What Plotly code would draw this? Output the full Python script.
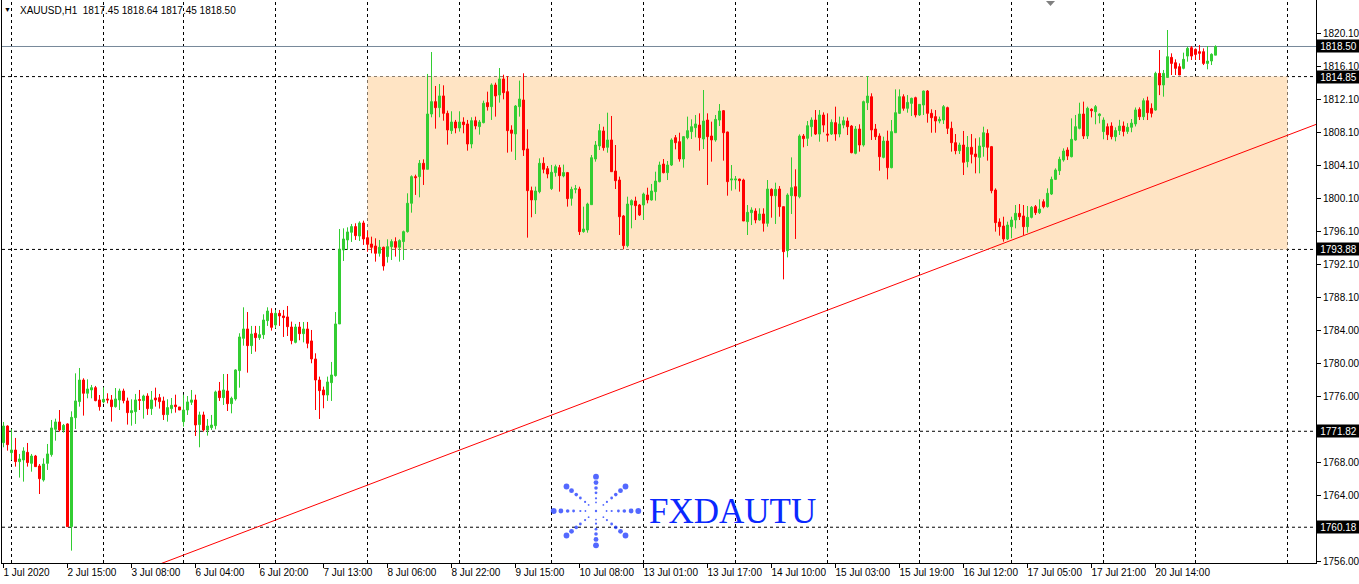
import plotly.graph_objects as go

# ---------------- data (XAUUSD H1) ----------------
sessions = [("1 Jul", 22, 23), ("2 Jul", 1, 23), ("3 Jul", 1, 20), ("6 Jul", 1, 23),
            ("7 Jul", 1, 23), ("8 Jul", 1, 23), ("9 Jul", 1, 23), ("10 Jul", 1, 23),
            ("13 Jul", 1, 23), ("14 Jul", 1, 23), ("15 Jul", 1, 23), ("16 Jul", 1, 23),
            ("17 Jul", 1, 23), ("20 Jul", 1, 23), ("21 Jul", 1, 6)]
bar_times = [f"{d} {h:02d}:00" for d, a, b in sessions for h in range(a, b + 1)]

opens = [
 1770.44,1772.46,1769.23,1769.55,1768.14,1768.34,1769.27,1767.93,1768.82,1767.61,
 1765.91,1767.93,1768.99,1772.06,1772.95,1771.98,1772.71,1760.25,1773.47,1775.42,
 1778.04,1776.43,1776.83,1777.11,1775.62,1775.38,1775.74,1775.62,1774.81,1775.62,
 1776.71,1775.50,1774.08,1774.20,1775.66,1775.54,1776.10,1774.57,1775.86,1775.90,
 1775.50,1773.84,1774.57,1775.01,1774.77,1772.99,1774.40,1775.34,1775.62,1772.63,
 1773.80,1771.98,1772.26,1772.50,1776.71,1775.90,1776.71,1775.17,1775.74,1779.18,
 1783.10,1784.23,1782.21,1783.71,1783.18,1783.54,1785.24,1786.13,1784.72,1786.13,
 1785.81,1785.69,1784.47,1782.61,1784.47,1783.66,1784.23,1782.78,1780.59,1778.04,
 1776.83,1776.22,1777.72,1778.57,1784.84,1793.81,1795.03,1795.96,1796.65,1795.51,
 1797.09,1795.30,1794.54,1794.30,1793.41,1794.14,1793.01,1794.22,1794.83,1794.14,
 1794.83,1796.04,1799.48,1802.71,1802.71,1804.33,1803.60,1810.31,1811.81,1811.08,
 1812.50,1810.39,1808.29,1809.34,1808.61,1809.34,1809.10,1806.67,1809.50,1808.78,
 1809.26,1811.69,1811.20,1813.83,1812.62,1814.56,1813.02,1808.37,1807.89,1811.20,
 1812.01,1806.07,1801.01,1799.88,1800.89,1804.33,1803.68,1801.26,1803.20,1803.80,
 1802.79,1803.20,1800.08,1801.17,1801.21,1796.04,1796.24,1799.31,1804.85,1806.43,
 1808.25,1806.27,1807.16,1803.39,1802.30,1797.94,1794.34,1799.27,1799.76,1799.27,
 1799.27,1800.48,1799.88,1800.89,1802.10,1804.24,1803.19,1804.12,1807.44,1806.95,
 1804.85,1807.44,1808.17,1808.65,1808.97,1807.28,1809.58,1807.64,1807.16,1809.58,
 1810.71,1808.13,1802.30,1802.30,1802.42,1802.30,1797.25,1798.34,1798.54,1797.45,
 1798.18,1797.05,1801.17,1800.40,1801.21,1799.07,1793.73,1800.40,1801.49,1800.28,
 1807.64,1807.36,1808.77,1809.58,1807.88,1810.19,1807.88,1807.88,1809.26,1807.88,
 1808.97,1809.46,1808.85,1805.54,1808.49,1806.55,1811.68,1812.41,1808.49,1807.64,
 1805.05,1807.03,1803.80,1808.04,1810.39,1812.41,1811.00,1811.60,1812.29,1810.19,
 1811.40,1813.10,1810.39,1809.99,1809.46,1809.58,1811.08,1808.57,1806.83,1805.86,
 1806.55,1804.53,1806.27,1805.46,1805.05,1806.35,1807.96,1806.35,1801.09,1797.21,
 1796.72,1795.15,1796.64,1797.45,1798.26,1797.94,1796.64,1797.77,1799.07,1798.34,
 1799.67,1799.07,1800.60,1802.38,1803.43,1804.73,1805.94,1805.13,1807.16,1808.57,
 1810.31,1807.64,1810.88,1810.59,1810.11,1808.17,1808.77,1808.85,1807.56,1808.30,
 1808.85,1808.20,1808.70,1809.10,1810.87,1809.98,1811.92,1810.99,1810.79,1815.24,
 1813.83,1814.75,1817.18,1816.53,1816.05,1815.85,1817.34,1818.35,1818.15,1817.87,
 1817.87,1816.45,1816.74,1817.45]
highs = [
 1772.95,1772.54,1772.06,1771.01,1769.07,1769.88,1770.40,1769.07,1768.95,1767.85,
 1768.54,1770.28,1773.19,1773.35,1774.40,1772.71,1772.79,1774.24,1778.85,1779.50,
 1778.25,1778.12,1777.44,1777.32,1776.22,1777.15,1776.43,1776.22,1777.07,1776.99,
 1776.99,1775.90,1775.70,1776.35,1776.83,1776.26,1776.43,1776.71,1777.11,1776.35,
 1776.02,1775.70,1775.86,1776.26,1774.77,1776.26,1776.10,1776.83,1776.26,1774.20,
 1774.20,1773.31,1773.80,1776.75,1777.80,1778.77,1778.77,1776.02,1779.34,1783.71,
 1786.86,1786.29,1784.60,1784.60,1784.60,1786.01,1786.86,1786.74,1786.54,1786.54,
 1786.54,1787.02,1785.12,1784.84,1785.08,1785.08,1785.08,1784.11,1781.28,1778.45,
 1777.24,1778.45,1780.23,1786.29,1796.36,1796.44,1796.56,1796.97,1797.05,1797.29,
 1797.37,1796.10,1795.43,1795.23,1795.03,1794.22,1795.11,1795.11,1795.35,1795.11,
 1796.16,1800.69,1802.87,1802.95,1804.73,1804.81,1815.17,1817.83,1813.71,1813.95,
 1813.79,1810.72,1810.64,1809.59,1810.64,1809.91,1809.59,1809.91,1809.99,1809.59,
 1811.93,1813.02,1814.03,1814.11,1815.89,1815.08,1814.92,1808.94,1811.40,1814.36,
 1815.25,1808.45,1801.50,1801.50,1804.93,1805.06,1804.00,1804.13,1804.17,1804.13,
 1804.17,1803.28,1801.49,1801.70,1801.49,1799.07,1799.55,1805.34,1807.03,1809.10,
 1808.77,1810.47,1810.07,1806.55,1802.71,1798.06,1800.28,1799.96,1800.28,1799.39,
 1800.77,1801.37,1801.82,1803.31,1804.53,1804.85,1804.61,1807.36,1807.76,1808.04,
 1807.64,1809.99,1809.66,1810.19,1810.39,1813.22,1810.39,1809.38,1810.19,1811.52,
 1810.79,1808.17,1804.12,1802.79,1802.46,1802.46,1799.27,1798.99,1798.87,1798.87,
 1798.87,1802.30,1801.29,1801.98,1801.57,1799.07,1800.69,1805.05,1803.60,1807.84,
 1807.88,1809.46,1809.90,1810.79,1810.79,1810.51,1810.39,1809.66,1811.20,1809.99,
 1809.99,1809.90,1808.97,1808.85,1809.06,1811.93,1814.92,1812.82,1809.10,1807.96,
 1807.56,1808.29,1809.58,1813.30,1813.30,1812.70,1812.61,1812.29,1812.41,1811.52,
 1813.14,1813.22,1810.88,1810.79,1809.99,1811.40,1811.20,1809.38,1807.88,1806.83,
 1808.25,1807.64,1807.88,1807.36,1807.48,1808.77,1808.45,1806.43,1801.29,1797.65,
 1797.85,1797.25,1797.85,1799.27,1799.39,1799.27,1799.15,1799.15,1799.27,1799.96,
 1799.96,1801.29,1802.71,1803.72,1805.13,1806.14,1806.27,1809.78,1810.19,1811.68,
 1811.81,1811.20,1811.00,1811.40,1810.39,1809.90,1809.17,1809.30,1808.69,1809.60,
 1809.40,1809.20,1809.70,1811.10,1811.12,1812.21,1812.41,1811.60,1815.44,1818.07,
 1815.65,1820.50,1817.67,1816.94,1816.45,1817.75,1818.48,1818.56,1818.27,1818.68,
 1818.27,1818.56,1817.67,1818.64]
lows = [
 1769.88,1769.47,1768.34,1767.53,1766.20,1765.71,1767.53,1766.92,1767.49,1764.21,
 1765.71,1767.13,1768.74,1770.68,1771.78,1771.66,1760.25,1757.34,1772.10,1774.81,
 1773.72,1775.82,1775.82,1775.46,1774.32,1775.21,1775.21,1772.99,1774.69,1774.40,
 1775.21,1772.63,1772.50,1772.71,1774.40,1773.35,1773.80,1773.80,1774.81,1774.57,
 1773.19,1772.99,1774.00,1774.08,1774.40,1772.38,1773.80,1775.01,1771.25,1769.88,
 1771.78,1771.29,1771.98,1772.06,1775.50,1775.01,1774.28,1774.00,1775.54,1777.11,
 1782.21,1778.93,1781.20,1781.48,1782.90,1783.02,1784.60,1784.03,1784.31,1784.60,
 1783.26,1783.38,1782.37,1782.49,1782.86,1782.61,1781.89,1780.07,1774.40,1773.31,
 1774.61,1775.50,1775.50,1778.45,1784.84,1792.48,1793.81,1794.79,1795.03,1794.91,
 1794.42,1793.60,1793.41,1792.40,1793.01,1791.31,1792.28,1792.60,1793.01,1792.40,
 1792.60,1795.92,1798.34,1800.49,1800.20,1801.70,1803.60,1809.91,1808.53,1809.91,
 1809.50,1806.59,1807.89,1807.97,1808.17,1807.97,1805.86,1806.15,1808.45,1807.81,
 1809.18,1810.72,1809.59,1809.99,1811.69,1812.09,1805.62,1805.74,1804.73,1809.99,
 1805.22,1795.31,1797.78,1798.18,1800.69,1803.12,1802.51,1801.09,1802.71,1800.89,
 1802.63,1799.07,1799.19,1800.69,1795.63,1795.91,1795.91,1799.31,1804.53,1805.94,
 1805.86,1805.62,1803.31,1801.21,1795.63,1793.89,1794.13,1796.44,1797.45,1797.94,
 1797.45,1799.47,1799.80,1799.80,1802.02,1803.11,1802.30,1804.00,1806.02,1804.53,
 1803.80,1807.24,1807.28,1807.48,1805.86,1806.06,1801.70,1804.53,1806.95,1808.85,
 1804.65,1800.40,1801.01,1801.17,1800.89,1797.33,1795.63,1796.84,1797.05,1797.37,
 1796.04,1796.64,1797.73,1796.97,1797.85,1790.25,1792.92,1798.18,1795.15,1800.08,
 1806.27,1806.43,1807.56,1807.76,1806.95,1808.09,1806.95,1807.76,1807.07,1807.48,
 1808.57,1807.76,1805.54,1805.42,1805.74,1806.35,1810.79,1807.16,1807.16,1803.43,
 1804.93,1802.38,1803.72,1808.04,1810.31,1810.71,1810.47,1810.07,1809.90,1810.07,
 1810.19,1809.26,1808.04,1808.04,1809.18,1809.10,1807.88,1805.74,1805.42,1805.46,
 1802.91,1803.84,1804.32,1803.11,1803.11,1805.13,1804.65,1800.69,1796.04,1795.55,
 1794.82,1795.02,1795.23,1796.44,1797.45,1795.63,1795.91,1797.65,1798.06,1798.18,
 1798.87,1798.95,1800.48,1802.30,1802.91,1804.53,1804.73,1805.05,1807.07,1808.45,
 1807.28,1807.28,1809.90,1809.06,1809.18,1807.24,1807.15,1807.23,1807.00,1807.76,
 1807.60,1807.90,1808.10,1808.80,1809.58,1809.58,1809.58,1809.90,1810.71,1812.60,
 1812.41,1814.75,1815.04,1815.04,1815.04,1815.73,1816.66,1816.86,1816.86,1816.86,
 1816.25,1815.73,1816.25,1817.45]
closes = [
 1772.46,1770.20,1769.55,1768.14,1768.46,1769.43,1768.02,1768.82,1767.53,1766.07,
 1767.85,1769.07,1772.22,1772.95,1771.98,1772.54,1760.25,1773.51,1775.50,1778.04,
 1776.43,1776.95,1777.11,1775.54,1774.81,1775.70,1775.62,1774.81,1775.74,1776.71,
 1775.54,1774.08,1774.32,1775.62,1775.58,1776.10,1774.57,1775.62,1775.62,1775.42,
 1773.84,1774.69,1774.97,1774.81,1774.40,1774.40,1775.38,1775.62,1772.58,1773.80,
 1771.98,1772.46,1772.58,1776.59,1775.90,1776.83,1775.17,1775.82,1779.26,1783.26,
 1784.23,1782.21,1783.62,1783.18,1783.54,1785.32,1786.41,1784.43,1786.13,1785.81,
 1785.61,1784.51,1782.82,1784.47,1783.66,1784.23,1782.49,1780.59,1778.04,1776.75,
 1776.22,1777.80,1778.65,1784.84,1793.90,1795.15,1796.00,1796.65,1795.55,1797.09,
 1795.15,1794.50,1794.14,1793.41,1794.14,1791.87,1794.22,1794.83,1794.14,1794.95,
 1796.04,1799.48,1802.71,1802.59,1804.33,1803.60,1810.31,1811.81,1811.08,1812.50,
 1810.39,1808.37,1809.34,1808.61,1809.34,1809.02,1806.67,1809.50,1808.86,1809.34,
 1811.61,1811.20,1813.83,1812.50,1814.56,1812.90,1808.29,1807.97,1811.28,1812.13,
 1805.95,1801.01,1799.88,1800.97,1804.33,1803.60,1803.03,1803.24,1803.92,1802.83,
 1803.20,1800.04,1801.17,1801.25,1796.04,1796.36,1799.39,1805.01,1806.55,1808.29,
 1806.23,1807.16,1803.31,1802.22,1797.85,1794.34,1799.39,1799.80,1799.19,1798.06,
 1800.60,1799.88,1800.97,1802.18,1804.12,1803.19,1804.12,1807.16,1806.83,1804.85,
 1807.56,1808.29,1808.77,1809.10,1807.44,1809.46,1807.56,1807.16,1809.66,1810.67,
 1808.04,1802.10,1802.42,1802.42,1802.22,1797.33,1798.38,1798.66,1797.45,1798.18,
 1797.05,1801.21,1800.40,1801.17,1799.07,1793.61,1800.48,1801.37,1800.36,1807.64,
 1807.32,1808.89,1809.58,1807.88,1810.19,1808.97,1807.76,1809.30,1807.88,1809.10,
 1809.50,1808.77,1805.62,1808.49,1806.55,1811.81,1812.49,1808.37,1807.56,1805.13,
 1807.03,1803.80,1808.17,1810.47,1812.41,1811.00,1811.72,1812.21,1810.19,1811.48,
 1813.10,1810.39,1809.86,1809.46,1809.66,1811.20,1808.57,1806.83,1805.86,1806.55,
 1804.45,1806.27,1805.42,1805.13,1806.43,1808.04,1806.27,1801.01,1797.13,1796.64,
 1795.15,1796.84,1797.45,1798.26,1797.85,1796.64,1797.77,1798.99,1798.34,1798.78,
 1799.07,1800.69,1802.38,1803.52,1804.81,1805.82,1805.21,1807.24,1808.77,1810.31,
 1807.64,1811.00,1810.71,1811.20,1810.31,1809.58,1807.80,1807.56,1808.30,1808.85,
 1808.20,1808.70,1809.20,1810.80,1809.98,1811.92,1810.47,1810.39,1815.24,1813.83,
 1815.24,1817.26,1816.45,1815.85,1815.04,1816.94,1818.27,1817.34,1817.54,1817.67,
 1816.45,1816.74,1817.55,1818.50]

xtick_labels = ["1 Jul 2020", "2 Jul 15:00", "3 Jul 08:00", "6 Jul 04:00", "6 Jul 20:00",
                "7 Jul 13:00", "8 Jul 06:00", "8 Jul 22:00", "9 Jul 15:00", "10 Jul 08:00",
                "13 Jul 01:00", "13 Jul 17:00", "14 Jul 10:00", "15 Jul 03:00", "15 Jul 19:00",
                "16 Jul 12:00", "17 Jul 05:00", "17 Jul 21:00", "20 Jul 14:00"]
xtick_step = 16
ytick_values = [1820.10, 1816.10, 1812.10, 1808.10, 1804.10, 1800.10, 1796.10, 1792.10,
                1788.10, 1784.00, 1780.00, 1776.00, 1768.00, 1764.00, 1756.00]
ytick_labels = ["1820.10", "1816.10", "1812.10", "1808.10", "1804.10", "1800.10", "1796.10",
                "1792.10", "1788.10", "1784.00", "1780.00", "1776.00", "1768.00", "1764.00",
                "1756.00"]
h_levels = [1814.85, 1793.88, 1771.82, 1760.18]
bid_price = 1818.50
box_low, box_high = 1793.88, 1814.85
box_start = "8 Jul 01:00"
trend_points = [(42, 1756.25), (250, 1794.63)]
symbol = "XAUUSD,H1"

# ---------------- figure ----------------
n = len(bar_times)
x = list(range(n))
last_hour = sessions[-1][2]
future_day_start = n + (23 - last_hour)
day_starts = [i for i, t in enumerate(bar_times) if t.endswith(" 01:00")] + [future_day_start]

W, H = 1359, 584
ML, MR, MT, MB = 2, 43, 0, 21
x_min, x_max = -0.375, 328.125
y_min, y_max = 1755.84, 1824.14

GREEN, RED = "#32CD32", "#FF0000"
LOGO = "#0a28ff"
fig = go.Figure()
fig.add_trace(go.Candlestick(
    x=x, open=opens, high=highs, low=lows, close=closes,
    increasing=dict(line=dict(color=GREEN, width=1), fillcolor=GREEN),
    decreasing=dict(line=dict(color=RED, width=1), fillcolor=RED),
    whiskerwidth=0, showlegend=False, hoverinfo="skip"))

# trend line (ray through two anchor points)
(ta, pa), (tb, pb) = trend_points
slope = (pb - pa) / (tb - ta)
tx = [x_min - 5, x_max + 5]
fig.add_trace(go.Scatter(x=tx, y=[pa + slope * (v - ta) for v in tx], mode="lines",
                         line=dict(color="#FF0000", width=1), showlegend=False,
                         hoverinfo="skip"))

shapes = []
shapes.append(dict(type="rect", xref="x", yref="y", x0=bar_times.index(box_start),
                   x1=future_day_start, y0=box_low, y1=box_high,
                   fillcolor="#FFE4C4", line=dict(width=0), layer="below"))
for d in day_starts:
    shapes.append(dict(type="line", xref="x", yref="paper", x0=d, x1=d, y0=0, y1=1,
                       line=dict(color="black", width=1, dash="3px,3px"), layer="below"))
for lv in h_levels:
    shapes.append(dict(type="line", xref="paper", yref="y", x0=0, x1=1, y0=lv, y1=lv,
                       line=dict(color="black", width=1, dash="3px,3px"), layer="below"))
shapes.append(dict(type="line", xref="paper", yref="y", x0=0, x1=1, y0=bid_price,
                   y1=bid_price, line=dict(color="#778899", width=1), layer="below"))
shapes.append(dict(type="path", xref="x2", yref="y2", path="M 1046 1 L 1055 1 L 1050.5 6 Z",
                   fillcolor="#808080", line=dict(width=0)))

# watermark logo (pixel overlay axes)
cx, cy = 596, 511
arms = [(42.3, 0), (-42.3, 0), (0, 34.3), (0, -34.3),
        (29.5, 24.5), (-29.5, 24.5), (29.5, -24.5), (-29.5, -24.5)]
fracs = [1.0, 0.83, 0.67, 0.53, 0.37, 0.25]
dsz = [5.8, 4.8, 3.6, 2.8, 2.2, 1.8]
lx, ly, ls = [cx], [cy], [2.4]
for ax_, ay_ in arms:
    for f, s in zip(fracs, dsz):
        lx.append(cx + ax_ * f)
        ly.append(cy + ay_ * f)
        ls.append(s)
fig.add_trace(go.Scatter(x=lx, y=ly, mode="markers", xaxis="x2", yaxis="y2",
                         marker=dict(color=LOGO, size=ls, line=dict(width=0)),
                         showlegend=False, hoverinfo="skip"))

annotations = [
    dict(xref="x2", yref="y2", x=647, y=511, text="FXDAUTU", showarrow=False,
         xanchor="left", yanchor="middle",
         font=dict(family="Liberation Serif", size=35, color=LOGO)),
    dict(xref="paper", yref="paper", x=(18 - ML) / (W - ML - MR), y=1, yshift=-3,
         xanchor="left", yanchor="top", showarrow=False,
         text=f"{symbol}\u00a0\u00a0{opens[-1]:.2f} {highs[-1]:.2f} {lows[-1]:.2f} {closes[-1]:.2f}",
         font=dict(size=10, color="black")),
    dict(xref="paper", yref="paper", x=(7 - ML) / (W - ML - MR), y=1, yshift=-4,
         xanchor="center", yanchor="top", showarrow=False, text="▼",
         font=dict(size=7, color="black")),
]
for lv in h_levels + [bid_price]:
    annotations.append(dict(xref="paper", yref="y", x=1, y=lv, xanchor="left",
                            yanchor="middle", showarrow=False, text=f"{lv:.2f}",
                            bgcolor="black", font=dict(size=10, color="white"),
                            width=41, height=10, borderpad=1, align="center"))

fig.update_layout(
    width=W, height=H, margin=dict(l=ML, r=MR, t=MT, b=MB, pad=0),
    paper_bgcolor="white", plot_bgcolor="white",
    font=dict(family="Liberation Sans", size=10, color="black"),
    hovermode=False, showlegend=False, boxgap=0.5, boxgroupgap=0,
    shapes=shapes, annotations=annotations,
    xaxis=dict(range=[x_min, x_max], tickvals=list(range(0, n, xtick_step))[:len(xtick_labels)],
               ticktext=xtick_labels, ticks="outside", ticklen=4, tickcolor="black",
               ticklabelposition="outside right", ticklabelshift=-1, tickangle=0,
               tickfont=dict(size=10), automargin=False, showgrid=False, zeroline=False,
               showline=True, linecolor="black", linewidth=1,
               rangeslider=dict(visible=False), fixedrange=True),
    yaxis=dict(range=[y_min, y_max], side="right", tickvals=ytick_values,
               ticktext=ytick_labels, ticks="outside", ticklen=4, tickcolor="black",
               tickfont=dict(size=10), automargin=False,
               showgrid=False, zeroline=False, showline=True, linecolor="black",
               linewidth=1, mirror=True, fixedrange=True),
    xaxis2=dict(overlaying="x", range=[ML, W - MR], visible=False, fixedrange=True),
    yaxis2=dict(overlaying="y", range=[H - MB, MT], visible=False, fixedrange=True),
)

fig.write_html("out.html", config={"displayModeBar": False},
               post_script="document.body.style.margin='0';document.body.style.overflow='hidden';")
